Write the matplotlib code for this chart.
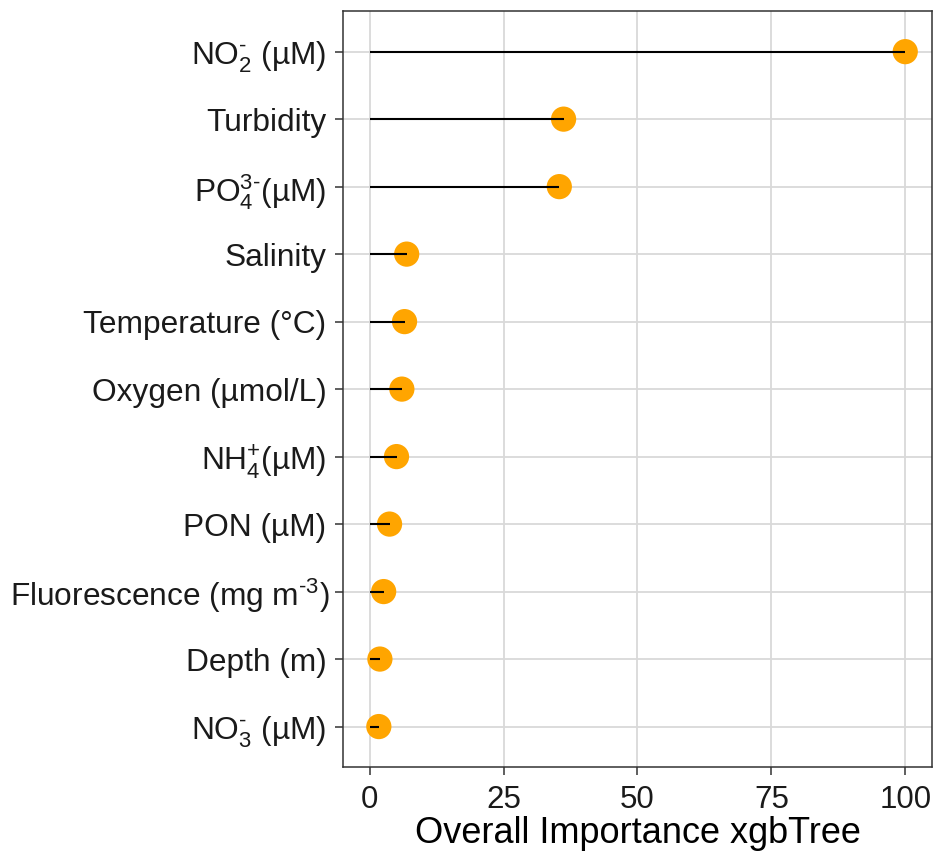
import matplotlib
matplotlib.use('Agg')
import matplotlib.pyplot as plt

plt.rcParams['font.family'] = ['Liberation Sans', 'DejaVu Sans']
plt.rcParams['mathtext.fontset'] = 'custom'
plt.rcParams['mathtext.rm'] = 'Liberation Sans'
plt.rcParams['mathtext.it'] = 'Liberation Sans'
plt.rcParams['mathtext.default'] = 'regular'

# variables, top to bottom as in the chart
variables = [
    'NO$_2^{‐}$ (µM)',
    'Turbidity',
    'PO$_4^{3‐}$(µM)',
    'Salinity',
    'Temperature (°C)',
    'Oxygen (µmol/L)',
    'NH$_4^{+}$(µM)',
    'PON (µM)',
    'Fluorescence (mg m$^{‐3}$)',
    'Depth (m)',
    'NO$_3^{‐}$ (µM)',
]
importance = [100, 36.2, 35.4, 6.9, 6.5, 6.0, 5.0, 3.7, 2.6, 1.9, 1.7]
x_ticks = [0, 25, 50, 75, 100]

fig = plt.figure(figsize=(9.35, 8.58), dpi=100)
ax = fig.add_axes([0.3668, 0.106, 0.63, 0.881])

n = len(variables)
ypos = [n - 1 - i for i in range(n)]

ax.hlines(ypos, 0, importance, color='black', linewidth=1.5, zorder=3)
ax.scatter(importance, ypos, s=330, color='#FFA500', edgecolors='none', zorder=2)

ax.set_xlim(-5, 105)
ax.set_ylim(-0.6, n - 0.4)
ax.set_xticks(x_ticks)
ax.set_yticks(ypos)
ax.set_yticklabels(variables)

ax.grid(True, color='#D9D9D9', linewidth=1.3)
ax.set_axisbelow(True)
for sp in ax.spines.values():
    sp.set_color('#333333')
    sp.set_linewidth(1.1)

ax.tick_params(axis='both', length=6, width=1.1, color='#333333', labelcolor='#1a1a1a')
ax.tick_params(axis='x', labelsize=22.5, pad=7)
ax.tick_params(axis='y', labelsize=22.8, pad=6)
ax.set_xlabel('Overall Importance xgbTree', fontsize=26, labelpad=1, color='black')

# the long fluorescence label sits closer to the axis, as in the reference
for lab in ax.get_yticklabels():
    if lab.get_text().startswith('Fluorescence'):
        lab.set_x(lab.get_position()[0] + 0.006)

fig.savefig('out.png', dpi=100)
